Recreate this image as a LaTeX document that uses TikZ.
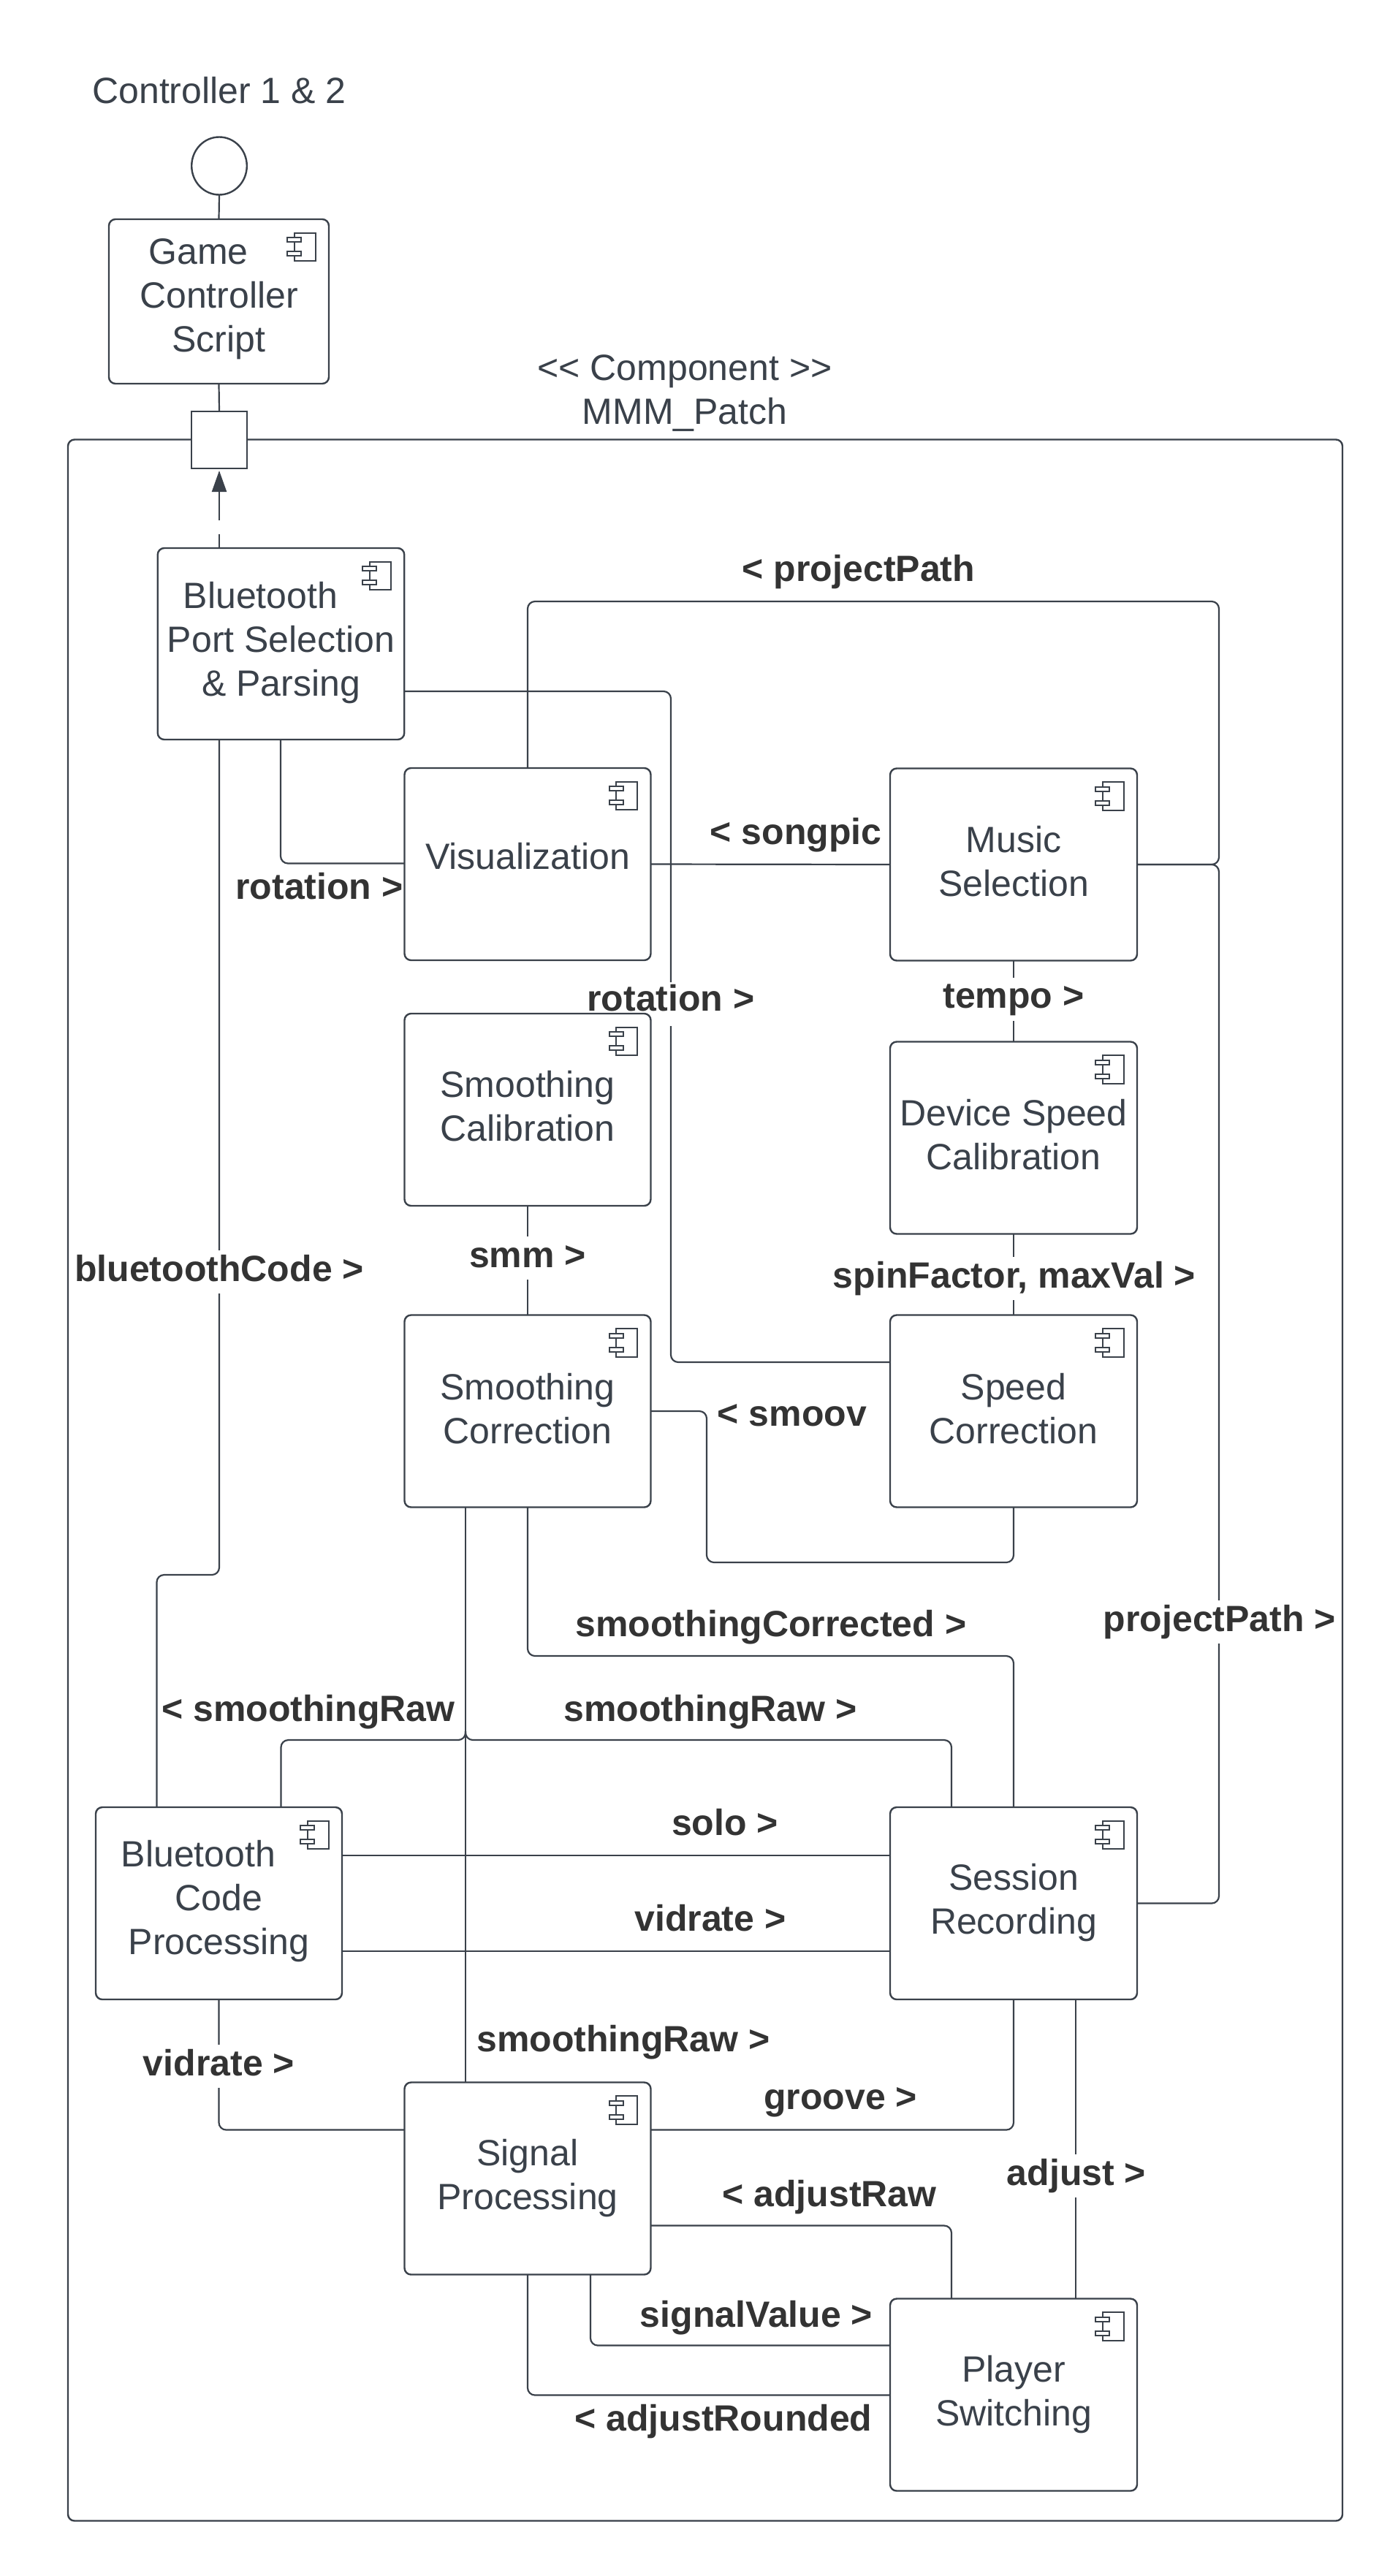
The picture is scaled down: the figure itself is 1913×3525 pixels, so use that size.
\documentclass[tikz,border=0pt]{standalone}
\usepackage{fontspec}
\setmainfont{Liberation Sans}
\usetikzlibrary{arrows.meta,shapes.geometric}
\definecolor{ink}{HTML}{3A414A}
\definecolor{labelink}{HTML}{333333}
\tikzset{
  compbox/.style={draw=ink,line width=2.4pt,rounded corners=9pt,fill=white,inner sep=0pt,outer sep=0pt,rectangle},
  boxtext/.style={text=ink,font=\fontsize{50}{60}\selectfont,align=center,inner sep=0pt},
  plaintext/.style={text=ink,font=\fontsize{50}{60}\selectfont,align=center,inner sep=0pt},
  conn/.style={draw=ink,line width=2.2pt,rounded corners=10pt},
  lab/.style={text=labelink,font=\bfseries\fontsize{50}{60}\selectfont,inner sep=0pt,text height=38pt,text depth=13pt},
  labw/.style={lab,fill=white,inner xsep=4pt,inner ysep=4pt},
  icon/.style={draw=ink,line width=2pt,fill=white},
}
\newcommand{\comp}[7]{%
  \node[compbox,minimum width=#4pt,minimum height=#5pt,
        label={[boxtext,yshift=#6pt]center:{#7}}] (#1) at (#2,#3) {};
  \draw[icon] ([shift={(-47.5pt,-18.5pt)}]#1.north east) rectangle ([shift={(-18.5pt,-57pt)}]#1.north east);
  \draw[icon] ([shift={(-57pt,-25pt)}]#1.north east) rectangle ([shift={(-38pt,-31pt)}]#1.north east);
  \draw[icon] ([shift={(-57pt,-44pt)}]#1.north east) rectangle ([shift={(-38pt,-50pt)}]#1.north east);
}
\begin{document}
\begin{tikzpicture}[x=1pt,y=-1pt]
\useasboundingbox[fill=white] (0,0) rectangle (1913,3525);

% frame
\node[compbox,minimum width=1744pt,minimum height=2848pt] (patch) at (965,2025.5) {};

% components
\comp{game}{299.5}{412.5}{301}{225}{3}{Game\hspace*{56pt}\\Controller\\Script}
\comp{blue}{384.5}{881}{337.5}{262}{1}{Bluetooth\hspace*{56pt}\\Port Selection\\\& Parsing}
\comp{vis}{722}{1182.5}{337}{263}{11}{Visualization}
\comp{music}{1387}{1183}{338}{263}{4}{Music\\Selection}
\comp{scal}{722}{1518.5}{337}{263}{5}{Smoothing\\Calibration}
\comp{dev}{1387}{1557}{338}{263}{4}{Device Speed\\Calibration}
\comp{scor}{722}{1931}{337}{263}{3.5}{Smoothing\\Correction}
\comp{speed}{1387}{1931}{338}{263}{3.5}{Speed\\Correction}
\comp{code}{299.5}{2604.5}{337}{263}{2.5}{Bluetooth\hspace*{56pt}\\Code\\Processing}
\comp{sess}{1387}{2604.5}{338}{263}{1}{Session\\Recording}
\comp{sig}{722}{2981}{337}{263}{0}{Signal\\Processing}
\comp{play}{1387}{3277}{338}{263}{0}{Player\\Switching}

% interface and port
\node[draw=ink,line width=2.4pt,ellipse,fill=white,minimum width=75.6pt,minimum height=79pt,inner sep=0pt,outer sep=0pt] (ctrl) at (300,227) {};
\node[draw=ink,line width=2.4pt,rectangle,fill=white,minimum width=75.6pt,minimum height=78pt,inner sep=0pt,outer sep=0pt] (port) at (300,602) {};

% helper coordinates
\coordinate (ppcorner) at (1668,823);
\coordinate (ppjoin) at (1668,1183);
\coordinate (btjog) at (300,2155);
\coordinate (rawjoin) at (637,2381);
\coordinate (rawup) at (637,2369);

% connectors
\draw[conn] (ctrl.south) -- (game.north);
\draw[conn] (game.south) -- (port.north);
\draw[draw=ink,line width=2.2pt,dash pattern=on 19pt off 19pt on 60pt off 0pt,-{Triangle[length=29pt,width=20pt]},shorten >=3pt] ([xshift=-84.5pt]blue.north) -- (port.south);

\draw[conn] ([xshift=-84.5pt]blue.south) -- (btjog) -| ([xshift=-85pt]code.north);
\draw[conn] ([xshift=-0.5pt]blue.south) |- ([yshift=1pt]vis.west);
\draw[conn] ([yshift=-65pt]blue.east) -| (918,1344) (918,1404) |- ([yshift=67pt]speed.west);
\draw[conn] (vis.north) |- (ppcorner) -- (ppjoin) -- (music.east);
\draw[conn] (sess.east) -| (ppjoin) -- (music.east);
\draw[conn] (vis.east) -- (music.west);
\draw[conn] (music.south) -- (dev.north);
\draw[conn] (dev.south) -- (speed.north);
\draw[conn] (scal.south) -- (scor.north);
\draw[conn] (scor.east) -| (967,2138) -| (speed.south);
\draw[conn] (scor.south) |- (1387,2266) -- (sess.north);
\draw[conn] ([xshift=-85pt]scor.south) -- ([xshift=-85pt]sig.north);
\draw[conn] ([xshift=85pt]code.north) |- (rawjoin) -- (rawup);
\draw[conn] ([xshift=-85pt]sess.north) |- (rawjoin) -- (rawup);
\draw[conn] ([yshift=-66pt]code.north east) -- ([yshift=-66pt]sess.north west);
\draw[conn] ([yshift=-197pt]code.north east) -- ([yshift=-197pt]sess.north west);
\draw[conn] (code.south) |- ([yshift=-65pt]sig.north west);
\draw[conn] ([yshift=-65pt]sig.north east) -| (sess.south);
\draw[conn] ([yshift=-196pt]sig.north east) -| ([xshift=-85pt]play.north);
\draw[conn] ([xshift=85pt]sess.south) -- ([xshift=85pt]play.north);
\draw[conn] ([xshift=86pt]sig.south) |- ([yshift=-64pt]play.north west);
\draw[conn] (sig.south) |- ([yshift=-132pt]play.north west);

% titles
\node[plaintext] (title) at (300,124) {Controller 1 \& 2};
\node[plaintext] (stereo) at (937,538.5) {<{}< Component >{}>\\MMM\_Patch};

% connector labels
\node[lab] (lprojtop) at (1175,782.5) {< projectPath};
\node[lab] (lsongpic) at (1089,1142.5) {< songpic};
\node[lab] (lrot1) at (437,1217.5) {rotation >};
\node[lab,text depth=0pt,text height=36pt] (lrot2) at (918,1365) {rotation >};
\node[labw] (ltempo) at (1387,1367) {tempo >};
\node[labw] (lbtc) at (300,1740.5) {bluetoothCode >};
\node[labw] (lsmm) at (722,1721.5) {smm >};
\node[labw] (lspin) at (1388,1749.5) {spinFactor, maxVal >};
\node[lab] (lsmoov) at (1084,1938.5) {< smoov};
\node[lab] (lcorr) at (1055,2226.5) {smoothingCorrected >};
\node[labw] (lprojr) at (1669,2219.5) {projectPath >};
\node[lab] (lrawl) at (422,2342.5) {< smoothingRaw};
\node[lab] (lrawr) at (972,2342.5) {smoothingRaw >};
\node[lab] (lsolo) at (992,2498.5) {solo >};
\node[lab] (lvid1) at (972,2629.5) {vidrate >};
\node[labw] (lvid2) at (299.5,2827.5) {vidrate >};
\node[lab] (lrawd) at (853,2794.5) {smoothingRaw >};
\node[lab] (lgroove) at (1150,2873.5) {groove >};
\node[lab] (ladjr) at (1135,3006.5) {< adjustRaw};
\node[labw] (ladj) at (1473,2977.5) {adjust >};
\node[lab] (lsv) at (1035,3171.5) {signalValue >};
\node[lab] (lar) at (990,3313.5) {< adjustRounded};
\end{tikzpicture}
\end{document}
